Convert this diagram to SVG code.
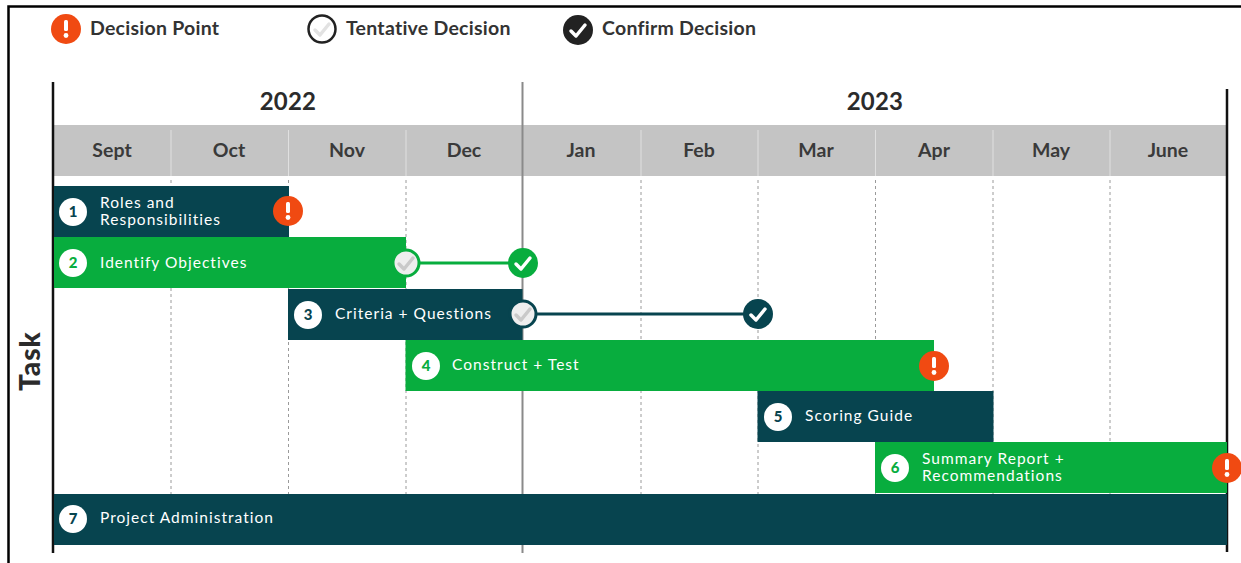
<svg xmlns="http://www.w3.org/2000/svg" width="1241" height="563" viewBox="0 0 1241 563">
<style>
text{font-family:Lato,"Liberation Sans",sans-serif}
.leg{font-size:19.5px;fill:#333;font-weight:700;letter-spacing:.25px}
.yr{font-size:24px;fill:#2b2b2b;font-weight:700;text-anchor:middle;letter-spacing:.2px}
.mo{font-size:19.5px;fill:#3a3a3a;font-weight:700;text-anchor:middle}
.lb{font-size:15.5px;fill:#fff;letter-spacing:1.02px}
.nm{font-size:15px;font-weight:900;text-anchor:middle}
.dk{fill:#07444f}.gr{fill:#08ad3e}
.grid{stroke:#9a9a9a;stroke-width:1;stroke-dasharray:3 3}
.sep{stroke:#e0e0e0;stroke-width:1}
.chk{fill:none;stroke-width:3.5;stroke-linecap:round;stroke-linejoin:round}
.ex{fill:#f04a12}
</style>
<defs>
<g id="warn"><circle r="15" class="ex"/><rect x="-2" y="-9" width="4" height="11" rx="1.5" fill="#fff"/><circle cy="6.5" r="2.400" fill="#fff"/></g>
<path id="tick" d="M-7 1L-2 6L7-5"/>
</defs>
<rect width="1241" height="563" fill="#fff"/>
<path d="M8.500 563V6.500H1241" fill="none" stroke="#000" stroke-width="2.500"/>
<g id="legend">
<g id="legend-decision"><use href="#warn" x="66" y="29"/><text class="leg" x="90" y="35">Decision Point</text></g>
<g id="legend-tentative"><circle cx="322" cy="29" r="13.500" fill="#fff" stroke="#222" stroke-width="2.500"/><use href="#tick" x="322" y="29" class="chk" stroke="#e2e2e2"/><text class="leg" x="346" y="35">Tentative Decision</text></g>
<g id="legend-confirm"><circle cx="578" cy="30" r="15" fill="#222"/><use href="#tick" x="578" y="30" class="chk" stroke="#fff"/><text class="leg" x="602" y="35">Confirm Decision</text></g>
</g>
<g id="header">
<rect x="53" y="125" width="1174" height="51" fill="#c4c4c4"/>
<text class="yr" x="288" y="110">2022</text><text class="yr" x="875" y="110">2023</text>
<path class="sep" d="M171 130V176M288.500 130V176M406 130V176M641 130V176M758 130V176M875.500 130V176M993 130V176M1110 130V176"/>
<text class="mo" x="112" y="157">Sept</text><text class="mo" x="229" y="157">Oct</text><text class="mo" x="347" y="157">Nov</text><text class="mo" x="464" y="157">Dec</text><text class="mo" x="581" y="157">Jan</text><text class="mo" x="699" y="157">Feb</text><text class="mo" x="816" y="157">Mar</text><text class="mo" x="934" y="157">Apr</text><text class="mo" x="1051" y="157">May</text><text class="mo" x="1168" y="157">June</text>
</g>
<g id="grid">
<path class="grid" d="M171 180V494M288.500 180V494M406 180V494M641 180V494M758 180V494M875.500 180V494M993 180V494M1110 180V494"/>
</g>
<g id="axes">
<path d="M53 82V553" stroke="#111" stroke-width="2.500"/>
<path d="M1227 89V552" stroke="#111" stroke-width="2.500"/>
<path d="M522.500 82V553" stroke="#8a8a8a" stroke-width="2"/>
</g>
<text x="0" y="0" transform="translate(40,391) rotate(-90)" font-size="28" font-weight="900" letter-spacing="1" fill="#2b2b2b">Task</text>
<g id="connectors">
<path d="M405 263H523" stroke="#08ad3e" stroke-width="3" fill="none"/>
<path d="M522 314H758" stroke="#07444f" stroke-width="3" fill="none"/>
</g>
<g id="task-1"><rect class="dk" x="54" y="186" width="235" height="51"/><circle cx="73" cy="212" r="14" fill="#fff"/><text class="nm dk" x="73" y="217">1</text><text class="lb" x="100" y="208">Roles and</text><text class="lb" x="100" y="225">Responsibilities</text><use href="#warn" x="288" y="211"/></g>
<g id="task-2"><rect class="gr" x="54" y="237" width="352" height="51"/><circle cx="73" cy="263" r="14" fill="#fff"/><text class="nm gr" x="73" y="268">2</text><text class="lb" x="100" y="268">Identify Objectives</text><circle cx="406" cy="263" r="13" fill="#eee" stroke="#08ad3e" stroke-width="3"/><use href="#tick" x="406" y="263" class="chk" stroke="#c9c9c9"/><circle cx="523" cy="263" r="15" class="gr"/><use href="#tick" x="523" y="263" class="chk" stroke="#fff"/></g>
<g id="task-3"><rect class="dk" x="288" y="289" width="234.500" height="51"/><circle cx="308" cy="315" r="14" fill="#fff"/><text class="nm dk" x="308" y="320">3</text><text class="lb" x="335" y="319">Criteria + Questions</text><circle cx="523" cy="314" r="13" fill="#eee" stroke="#07444f" stroke-width="3"/><use href="#tick" x="523" y="314" class="chk" stroke="#c9c9c9"/><circle cx="758" cy="314" r="15" class="dk"/><use href="#tick" x="758" y="314" class="chk" stroke="#fff"/></g>
<g id="task-4"><rect class="gr" x="405.500" y="340" width="528.500" height="51"/><circle cx="426" cy="366" r="14" fill="#fff"/><text class="nm gr" x="426" y="371">4</text><text class="lb" x="452" y="370">Construct + Test</text><use href="#warn" x="934" y="366"/></g>
<g id="task-5"><rect class="dk" x="757.500" y="391" width="236" height="51"/><circle cx="778" cy="417" r="14" fill="#fff"/><text class="nm dk" x="778" y="422">5</text><text class="lb" x="805" y="421">Scoring Guide</text></g>
<g id="task-6"><rect class="gr" x="875" y="442" width="352" height="51"/><circle cx="895" cy="468" r="14" fill="#fff"/><text class="nm gr" x="895" y="473">6</text><text class="lb" x="922" y="464">Summary Report +</text><text class="lb" x="922" y="481">Recommendations</text><use href="#warn" x="1227" y="468"/></g>
<g id="task-7"><rect class="dk" x="54" y="494" width="1173" height="51"/><circle cx="73" cy="519" r="14" fill="#fff"/><text class="nm dk" x="73" y="524">7</text><text class="lb" x="100" y="523">Project Administration</text></g>
</svg>
